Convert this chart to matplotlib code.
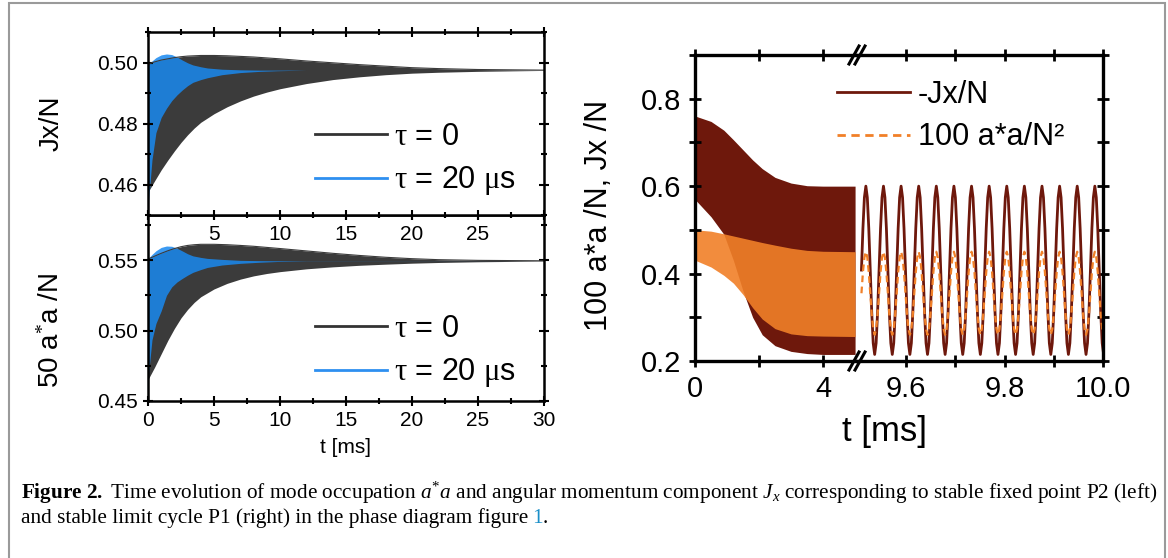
import numpy as np
import matplotlib.pyplot as plt
from matplotlib.lines import Line2D
from matplotlib.patches import Rectangle
from matplotlib.ticker import MultipleLocator, FormatStrFormatter

plt.rcParams['font.family'] = ['Liberation Sans', 'DejaVu Sans']
plt.rcParams['mathtext.fontset'] = 'custom'
plt.rcParams['mathtext.rm'] = 'Liberation Serif'
plt.rcParams['mathtext.it'] = 'Liberation Serif:italic'
plt.rcParams['mathtext.bf'] = 'Liberation Serif:bold'

# ---- left panels: envelopes of the fast oscillation (t in ms) ----
t_tau0 = [0, 0.5, 1, 1.5, 2, 2.5, 3, 3.5, 4, 5, 6, 7, 8, 9, 10, 12, 14, 16, 18, 20, 22, 25, 30]
jx_tau0_hi = [0.4995, 0.5002, 0.5008, 0.5012, 0.5016, 0.5019, 0.5021, 0.5022, 0.5023, 0.5023,
              0.5022, 0.5020, 0.5018, 0.5015, 0.5012, 0.5005, 0.4999, 0.4993, 0.4988, 0.4983,
              0.4980, 0.4977, 0.4975]
jx_tau0_lo = [0.4575, 0.4612, 0.4648, 0.4680, 0.4710, 0.4738, 0.4763, 0.4785, 0.4804, 0.4832,
              0.4855, 0.4874, 0.4890, 0.4903, 0.4914, 0.4931, 0.4944, 0.4953, 0.4960, 0.4965,
              0.4968, 0.4971, 0.4974]
aa_tau0_hi = [0.5507, 0.5528, 0.5548, 0.5566, 0.5582, 0.5595, 0.5604, 0.5609, 0.5612, 0.5612,
              0.5609, 0.5604, 0.5598, 0.5590, 0.5582, 0.5565, 0.5548, 0.5533, 0.5520, 0.5510,
              0.5503, 0.5498, 0.5495]
aa_tau0_lo = [0.4652, 0.4740, 0.4835, 0.4930, 0.5015, 0.5090, 0.5150, 0.5200, 0.5240, 0.5295,
              0.5335, 0.5365, 0.5388, 0.5405, 0.5418, 0.5438, 0.5452, 0.5463, 0.5471, 0.5478,
              0.5483, 0.5488, 0.5493]

t_tau20 = [0, 0.05, 0.3, 0.6, 1.0, 1.4, 1.8, 2.2, 2.6, 3.0, 3.4, 4.0, 4.5, 5.6, 7, 8.5, 9.8, 12, 30]
jx_tau20_hi = [0.4989, 0.4992, 0.5005, 0.5016, 0.5025, 0.5028, 0.5026, 0.5018, 0.5008, 0.4999,
               0.4992, 0.4986, 0.4982, 0.4978, 0.4976, 0.4975, 0.4975, 0.4975, 0.4975]
jx_tau20_lo = [0.4400, 0.4550, 0.4680, 0.4770, 0.4820, 0.4850, 0.4875, 0.4894, 0.4910, 0.4924,
               0.4935, 0.4944, 0.4950, 0.4960, 0.4967, 0.4971, 0.4973, 0.4975, 0.4975]
aa_tau20_hi = [0.5900, 0.5515, 0.5540, 0.5566, 0.5590, 0.5600, 0.5598, 0.5584, 0.5565, 0.5545,
               0.5530, 0.5519, 0.5512, 0.5505, 0.5498, 0.5496, 0.5495, 0.5495, 0.5495]
aa_tau20_lo = [0.4400, 0.4700, 0.4933, 0.5050, 0.5140, 0.5250, 0.5310, 0.5345, 0.5370, 0.5393,
               0.5413, 0.5433, 0.5448, 0.5465, 0.5477, 0.5485, 0.5490, 0.5494, 0.5495]

# ---- right panel, transient part (0-5 ms): envelopes ----
t_tr = [0, 0.02, 0.5, 0.9, 1.2, 1.5, 1.8, 2.1, 2.5, 3.0, 3.5, 4.0, 5.0]
mjx_hi = [0.90, 0.760, 0.748, 0.728, 0.706, 0.683, 0.660, 0.640, 0.620, 0.607, 0.601, 0.600, 0.600]
mjx_lo = [0.90, 0.568, 0.530, 0.490, 0.430, 0.360, 0.300, 0.260, 0.235, 0.222, 0.217, 0.215, 0.215]
occ_hi = [0.500, 0.500, 0.497, 0.491, 0.486, 0.481, 0.476, 0.471, 0.465, 0.458, 0.453, 0.451, 0.450]
occ_lo = [0.430, 0.430, 0.415, 0.396, 0.378, 0.352, 0.322, 0.296, 0.274, 0.262, 0.258, 0.257, 0.256]

mjx_cycle = [0.600, 0.574, 0.503, 0.408, 0.312, 0.241, 0.215, 0.241, 0.312, 0.408, 0.503, 0.574]
occ_cycle = [0.450, 0.437, 0.403, 0.355, 0.307, 0.273, 0.260, 0.273, 0.307, 0.355, 0.403, 0.437]
cycle_period = 0.0358
first_peak = 9.518
n_cycles = 15

W, H = 1168, 558
def fx(p): return p / W
def fy(p): return 1 - p / H

black = '#3b3b3b'
blue = (25/255, 137/255, 240/255)
dred = '#6e180c'
orng = (241/255, 128/255, 40/255)

fig = plt.figure(figsize=(11.68, 5.58), dpi=100)
bg = fig.add_axes([0, 0, 1, 1], zorder=-5)
bg.axis('off')
bg.set_xlim(0, 1)
bg.set_ylim(0, 1)
bg.add_patch(Rectangle((fx(9), -0.05), fx(1165) - fx(9), fy(3) + 0.05,
                       fill=False, ec='#9a9a9a', lw=1.5))

ax1 = fig.add_axes([fx(148), fy(215), fx(544) - fx(148), fy(32) - fy(215)], zorder=2)
ax2 = fig.add_axes([fx(148), fy(401), fx(544) - fx(148), fy(215) - fy(401)], zorder=1)

for ax, t0hi, t0lo, t2hi, t2lo in [(ax1, jx_tau0_hi, jx_tau0_lo, jx_tau20_hi, jx_tau20_lo),
                                   (ax2, aa_tau0_hi, aa_tau0_lo, aa_tau20_hi, aa_tau20_lo)]:
    ax.fill_between(t_tau0, t0lo, t0hi, color=black, lw=0)
    ax.fill_between(t_tau20, t2lo, t2hi, color=blue, alpha=0.85, lw=0)
    ax.plot(t_tau0, t0hi, color=black, lw=0.8)
    ax.set_xlim(0, 30)
    ax.xaxis.set_major_locator(MultipleLocator(5))
    ax.xaxis.set_minor_locator(MultipleLocator(2.5))
    for s in ax.spines.values():
        s.set_linewidth(1.8)
    ax.tick_params(which='both', direction='inout', top=True, right=True, width=1.5,
                   labelsize=15, pad=4)
    ax.tick_params(which='major', length=7)
    ax.tick_params(which='minor', length=4)

ax1.set_ylim(0.45, 0.51)
ax1.yaxis.set_major_locator(MultipleLocator(0.02))
ax1.yaxis.set_minor_locator(MultipleLocator(0.01))
ax1.yaxis.set_major_formatter(FormatStrFormatter('%.2f'))
ax1.set_xticks([0, 5, 10, 15, 20, 25, 30])
ax1.set_xticklabels(['', '5', '10', '15', '20', '25', ''])
ax1.set_ylabel('Jx/N', fontsize=20)
ax1.yaxis.set_label_coords(-0.21, 0.5)

ax2.set_ylim(0.45, 0.582)
ax2.yaxis.set_major_locator(MultipleLocator(0.05))
ax2.yaxis.set_minor_locator(MultipleLocator(0.025))
ax2.yaxis.set_major_formatter(FormatStrFormatter('%.2f'))
ax2.set_ylabel('50 a$^{*}$a /N', fontsize=20)
ax2.yaxis.set_label_coords(-0.21, 0.38)
ax2.set_xlabel('t [ms]', fontsize=15)
ax2.xaxis.set_label_coords(0.5, -0.2)

leg_handles = [Line2D([], [], color='#333333', lw=2), Line2D([], [], color='#2e8ff0', lw=2)]
leg_labels = [r'$\mathrm{\tau}$ = 0', r'$\mathrm{\tau}$ = 20 $\mathrm{\mu}$s']
for ytop in (122, 314):
    fig.legend(leg_handles, leg_labels, loc='upper left', bbox_to_anchor=(fx(315), fy(ytop)),
               frameon=False, fontsize=22, handlelength=2.35, handletextpad=0.25,
               labelspacing=0.4, borderpad=0, borderaxespad=0)

# ---- right panel: broken x axis ----
axa = fig.add_axes([fx(695), fy(361), fx(857) - fx(695), fy(55) - fy(361)])
axb = fig.add_axes([fx(857), fy(361), fx(1103) - fx(857), fy(55) - fy(361)], facecolor='none')

axa.fill_between(t_tr, mjx_lo, mjx_hi, color=dred, lw=0)
axa.fill_between(t_tr, occ_lo, occ_hi, color=orng, alpha=0.9, lw=0)
axa.set_xlim(0, 5.06)

n_pts = len(mjx_cycle) * n_cycles
t_lc = first_peak - 3 * cycle_period / len(mjx_cycle) + np.arange(n_pts) * cycle_period / len(mjx_cycle)
mjx_lc = np.roll(np.tile(mjx_cycle, n_cycles), 3)
occ_lc = np.roll(np.tile(occ_cycle, n_cycles), 3)
axb.plot(t_lc, mjx_lc, color=dred, lw=2)
axb.plot(t_lc, occ_lc, color=orng, lw=1.6, ls=(0, (3, 2)))
axb.set_xlim(9.5, 10.0)

for ax in (axa, axb):
    ax.set_ylim(0.2, 0.9)
    ax.yaxis.set_major_locator(MultipleLocator(0.2))
    ax.yaxis.set_minor_locator(MultipleLocator(0.1))
    ax.yaxis.set_major_formatter(FormatStrFormatter('%.1f'))
    for s in ax.spines.values():
        s.set_linewidth(2.4)
    ax.tick_params(which='both', direction='inout', top=True, width=2, labelsize=21, pad=6)
    ax.tick_params(which='major', length=8)
    ax.tick_params(which='minor', length=8)

axa.spines['right'].set_visible(False)
axa.tick_params(which='both', right=False)
axa.set_xticks([0, 2, 4])
axa.set_xticklabels(['0', '', '4'])
axa.set_ylabel('100 a*a /N, Jx /N', fontsize=22)
axa.yaxis.set_label_coords(-0.5, 0.477)

axb.spines['left'].set_visible(False)
axb.tick_params(which='both', left=False, labelleft=False, right=True)
axb.set_xticks([9.6, 9.7, 9.8, 9.9, 10.0])
axb.set_xticklabels(['9.6', '', '9.8', '', '10.0'])

# break marks
for yb in (55, 361):
    bg.add_patch(Rectangle((fx(850), fy(yb + 4)), fx(14), fy(yb - 4) - fy(yb + 4),
                           color='white', zorder=3, transform=fig.transFigure))
    for dx in (-3, 3):
        fig.add_artist(Line2D([fx(857 + dx - 5), fx(857 + dx + 5)], [fy(yb + 9), fy(yb - 9)],
                              color='black', lw=2.2))

fig.text(fx(884), fy(432), 't [ms]', fontsize=25, ha='center', va='center')

fig.legend([Line2D([], [], color=dred, lw=2), Line2D([], [], color=orng, lw=2, ls=(0, (3, 2)))],
           ['-Jx/N', '100 a*a/N²'], loc='upper left', bbox_to_anchor=(fx(837), fy(80)),
           frameon=False, fontsize=22, handlelength=2.4, handletextpad=0.25,
           labelspacing=0.4, borderpad=0, borderaxespad=0)

# ---- caption ----
cap1 = (r'$\mathbf{Figure\ 2.}$ Time evolution of mode occupation $a^{*}a$ and angular momentum '
        r'component $J_x$ corresponding to stable fixed point P2 (left)')
cap2 = 'and stable limit cycle P1 (right) in the phase diagram figure'
cfont = dict(fontsize=15.3, family='Liberation Serif', va='baseline')
bg.text(fx(21), fy(499), cap1, **cfont)
t2 = bg.text(fx(21), fy(523), cap2, **cfont)
r = fig.canvas.get_renderer()
x_end = t2.get_window_extent(r).x1 / W
t3 = bg.text(x_end + fx(4), fy(523), '1', color='#1a8fc8', **cfont)
x_end = t3.get_window_extent(r).x1 / W
bg.text(x_end, fy(523), '.', **cfont)

fig.savefig('out.png', dpi=100)
